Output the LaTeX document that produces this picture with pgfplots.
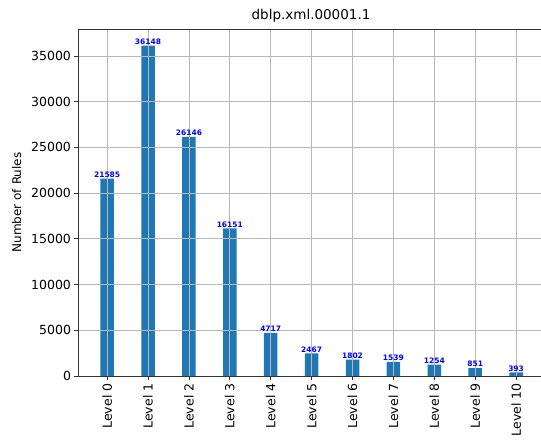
\documentclass[border=0pt]{standalone}
\usepackage{pgfplots}
\pgfplotsset{compat=1.18}
\usepackage{fontspec}
\setmainfont{DejaVu Sans}
\definecolor{barblue}{HTML}{1F77B4}
\definecolor{gridgray}{HTML}{B8B8B8}
\begin{document}
\begin{tikzpicture}
\begin{axis}[
  scale only axis,
  width=465pt, height=347pt,
  xmin=-0.7, xmax=10.67,
  ymin=0, ymax=37955,
  axis line style={line width=0.8pt, black!80},
  axis on top,
  xtick={0,1,2,3,4,5,6,7,8,9,10},
  xticklabels={Level 0,Level 1,Level 2,Level 3,Level 4,Level 5,Level 6,Level 7,Level 8,Level 9,Level 10},
  x tick label style={rotate=90, anchor=east, font=\fontsize{12.5}{14}\selectfont},
  ytick={0,5000,10000,15000,20000,25000,30000,35000},
  y tick label style={font=\fontsize{12.5}{14}\selectfont},
  /pgf/number format/assume math mode=true,
  scaled y ticks=false,
  yticklabel={\pgfmathprintnumber[fixed,1000 sep={}]{\tick}},
  xmajorgrids, ymajorgrids,
  grid style={gridgray, line width=0.8pt},
  tick style={black!80, line width=0.8pt},
  major tick length=4pt,
  tick align=outside,
  xtick pos=bottom, ytick pos=left,
  title={dblp.xml.00001.1},
  title style={font=\fontsize{13.5}{15}\selectfont, yshift=-3pt},
  ylabel={Number of Rules},
  ylabel style={font=\fontsize{12}{14}\selectfont, yshift=3pt},
  nodes near coords,
  nodes near coords style={font=\fontsize{7.5}{8}\selectfont\bfseries, text=blue, inner sep=1pt, /pgf/number format/.cd, fixed, 1000 sep={}},
]
\addplot[ybar, bar width=0.33, fill=barblue, draw=none] coordinates {
(0,21585) (1,36148) (2,26146) (3,16151) (4,4717) (5,2467) (6,1802) (7,1539) (8,1254) (9,851) (10,393)
};
\end{axis}
\pgfresetboundingbox
\useasboundingbox ([xshift=-78.5pt,yshift=-65pt]current axis.south west) rectangle ([xshift=462.5pt,yshift=29pt]current axis.north west);
\end{tikzpicture}
\end{document}
